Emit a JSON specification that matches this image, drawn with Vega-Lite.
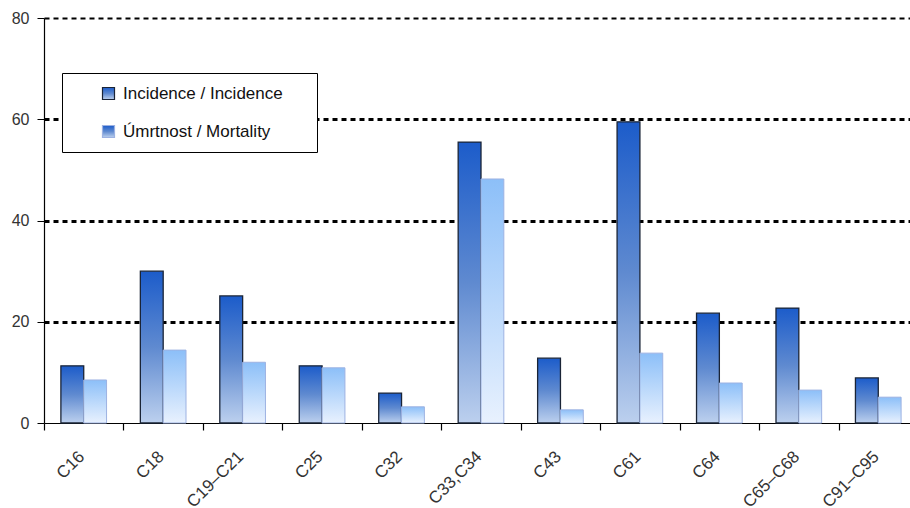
{
  "$schema": "https://vega.github.io/schema/vega-lite/v6.json",
  "width": 874,
  "height": 405,
  "padding": {"left": 11, "top": 10, "right": 0, "bottom": 5},
  "background": "white",
  "config": {
    "view": {"stroke": null},
    "font": "Liberation Sans",
    "axis": {"labelFont": "Liberation Sans", "labelFontSize": 16, "labelColor": "#333333"}
  },
  "data": {
    "values": [
      {"code": "C16", "series": "Incidence / Incidence", "value": 11.3},
      {"code": "C16", "series": "Úmrtnost / Mortality", "value": 8.5},
      {"code": "C18", "series": "Incidence / Incidence", "value": 30.0},
      {"code": "C18", "series": "Úmrtnost / Mortality", "value": 14.4},
      {"code": "C19–C21", "series": "Incidence / Incidence", "value": 25.1},
      {"code": "C19–C21", "series": "Úmrtnost / Mortality", "value": 12.0},
      {"code": "C25", "series": "Incidence / Incidence", "value": 11.3},
      {"code": "C25", "series": "Úmrtnost / Mortality", "value": 10.9},
      {"code": "C32", "series": "Incidence / Incidence", "value": 5.9},
      {"code": "C32", "series": "Úmrtnost / Mortality", "value": 3.2},
      {"code": "C33,C34", "series": "Incidence / Incidence", "value": 55.5},
      {"code": "C33,C34", "series": "Úmrtnost / Mortality", "value": 48.2},
      {"code": "C43", "series": "Incidence / Incidence", "value": 12.8},
      {"code": "C43", "series": "Úmrtnost / Mortality", "value": 2.6},
      {"code": "C61", "series": "Incidence / Incidence", "value": 59.5},
      {"code": "C61", "series": "Úmrtnost / Mortality", "value": 13.8},
      {"code": "C64", "series": "Incidence / Incidence", "value": 21.7},
      {"code": "C64", "series": "Úmrtnost / Mortality", "value": 7.9},
      {"code": "C65–C68", "series": "Incidence / Incidence", "value": 22.7},
      {"code": "C65–C68", "series": "Úmrtnost / Mortality", "value": 6.5},
      {"code": "C91–C95", "series": "Incidence / Incidence", "value": 8.9},
      {"code": "C91–C95", "series": "Úmrtnost / Mortality", "value": 5.1}
    ]
  },
  "encoding": {
    "x": {
      "field": "code", "type": "nominal", "sort": null, "title": null,
      "scale": {"paddingInner": 0, "paddingOuter": 0},
      "axis": {
        "labelAngle": -45, "labelAlign": "right", "labelBaseline": "top",
        "tickBand": "extent", "tickSize": 7, "tickColor": "#000000", "domainColor": "#000000",
        "labelPadding": 18, "labelOffset": -8, "labelFontSize": 17, "domainWidth": 1.2, "tickWidth": 1.2
      }
    },
    "xOffset": {
      "field": "series", "type": "nominal",
      "scale": {"domain": ["Incidence / Incidence", "Úmrtnost / Mortality"], "paddingInner": 0, "paddingOuter": 0.74}
    },
    "y": {
      "field": "value", "type": "quantitative", "title": null,
      "scale": {"domain": [0, 80], "nice": false},
      "axis": {
        "values": [0, 20, 40, 60, 80], "tickSize": 7, "tickColor": "#000000",
        "domainColor": "#000000", "domainWidth": 1.2, "labelPadding": 8,
        "grid": true, "gridColor": "#000000", "gridDash": [5, 4],
        "gridWidth": {"condition": {"test": "datum.value === 80", "value": 2}, "value": 3},
        "gridOpacity": {"condition": {"test": "datum.value === 0", "value": 0}, "value": 1}
      }
    },
    "stroke": {
      "field": "series", "type": "nominal",
      "scale": {"domain": ["Incidence / Incidence", "Úmrtnost / Mortality"], "range": ["#1a2436", "#9db2e2"]},
      "legend": {
        "title": " ", "titleOrient": "right", "titleFontSize": 1, "titlePadding": 22,
        "orient": "none", "legendX": 18, "legendY": 55,
        "direction": "vertical",
        "strokeColor": "#000000", "fillColor": "white", "padding": 12,
        "symbolType": "square", "symbolSize": 144, "symbolStrokeWidth": 1.2, "symbolOffset": 26,
        "labelFontSize": 17, "labelColor": "#111111", "labelFont": "Liberation Sans", "labelOffset": 6,
        "rowPadding": 20, "labelLimit": 300,
        "encode": {
          "symbols": {"update": {"fill": {"signal": "datum.value === 'Incidence / Incidence' ? '#4d7fd2' : '#bcd7f8'"}, "opacity": {"value": 1}}}
        }
      }
    }
  },
  "layer": [
    {
      "transform": [{"filter": "datum.series === 'Incidence / Incidence'"}],
      "mark": {
        "type": "bar", "strokeWidth": 1.3,
        "fill": {"gradient": "linear", "x1": 0, "y1": 0, "x2": 0, "y2": 1,
          "stops": [{"offset": 0, "color": "#1c5cca"}, {"offset": 0.5, "color": "#5f8ad0"}, {"offset": 1, "color": "#bcd0ee"}]}
      }
    },
    {
      "transform": [{"filter": "datum.series === 'Úmrtnost / Mortality'"}],
      "mark": {
        "type": "bar", "strokeWidth": 1,
        "fill": {"gradient": "linear", "x1": 0, "y1": 0, "x2": 0, "y2": 1,
          "stops": [{"offset": 0, "color": "#8cbff8"}, {"offset": 1, "color": "#e8f1fe"}]}
      }
    }
  ]
}
